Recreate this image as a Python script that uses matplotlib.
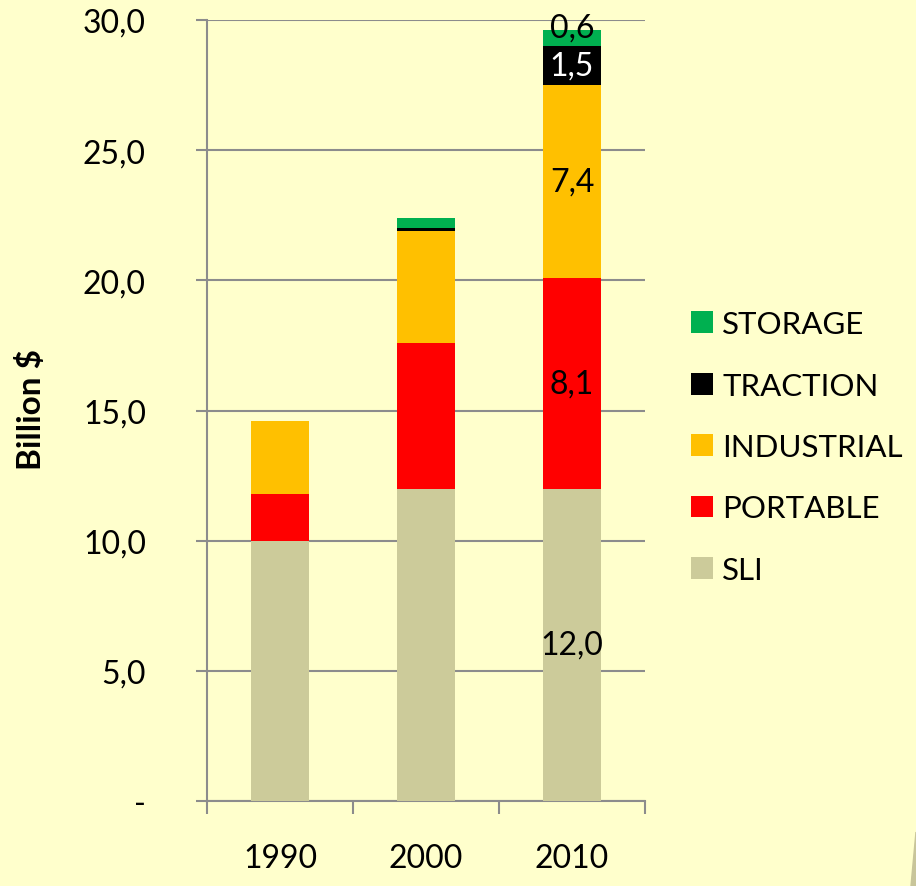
import matplotlib.pyplot as plt
import numpy as np
from matplotlib.patches import Polygon
from matplotlib.ticker import FuncFormatter

years = ['1990', '2000', '2010']
sli = [10.0, 12.0, 12.0]
portable = [1.8, 5.6, 8.1]
industrial = [2.8, 4.3, 7.4]
traction = [0.0, 0.1, 1.5]
storage = [0.0, 0.4, 0.6]

series = [('SLI', sli, '#CCCB9A'),
          ('PORTABLE', portable, '#FF0000'),
          ('INDUSTRIAL', industrial, '#FFC000'),
          ('TRACTION', traction, '#000000'),
          ('STORAGE', storage, '#00B050')]

bg = '#FFFFCC'
plt.rcParams['font.family'] = ['Lato', 'DejaVu Sans']

fig = plt.figure(figsize=(9.16, 8.87), dpi=100, facecolor=bg)
ax = fig.add_axes([207/916, 1 - 802/887, 438/916, 781/887])
ax.set_facecolor(bg)

x = np.arange(len(years))
bottom = np.zeros(len(years))
handles = []
for name, vals, col in series:
    vals = np.array(vals)
    b = ax.bar(x, vals, 0.4, bottom=bottom, color=col, label=name, zorder=3)
    handles.append(b)
    # value labels only on the last bar
    txtcol = 'white' if col == '#000000' else 'black'
    dy = 8 if name == 'STORAGE' else 0
    ax.annotate(f'{vals[-1]:.1f}'.replace('.', ','),
                (x[-1], bottom[-1] + vals[-1] / 2), xytext=(0, dy),
                textcoords='offset points', ha='center', va='center',
                fontsize=23, color=txtcol, zorder=4)
    bottom += vals

ax.set_xlim(-0.5, 2.5)
ax.set_ylim(0, 30)
ax.set_yticks(np.arange(0, 31, 5))
ax.yaxis.set_major_formatter(FuncFormatter(
    lambda v, p: '-' if v == 0 else f'{v:.1f}'.replace('.', ',')))
ax.grid(axis='y', color='#8C8C8C', linewidth=1.5, zorder=0)

ax.set_xticks(x)
ax.set_xticklabels(years)
ax.set_xticks([-0.5, 0.5, 1.5, 2.5], minor=True)
ax.tick_params(axis='x', which='major', length=0, pad=30, labelsize=23)
ax.tick_params(axis='x', which='minor', length=9, width=1.5, color='#8C8C8C', direction='out')
ax.tick_params(axis='y', length=8, width=1.5, color='#8C8C8C', pad=36, labelsize=23)

for s in ['top', 'right']:
    ax.spines[s].set_visible(False)
for s in ['left', 'bottom']:
    ax.spines[s].set_color('#8C8C8C')
    ax.spines[s].set_linewidth(1.5)

fig.text(31/916, 1 - 410/887, 'Billion $', rotation=90, ha='center', va='center',
         fontsize=24, fontweight='bold')

fig.legend(handles[::-1], [s[0] for s in series][::-1], loc='center left',
           bbox_to_anchor=(663/916, 1 - 448/887), frameon=False, fontsize=22.5,
           handlelength=0.7, handleheight=0.7, handletextpad=0.3, labelspacing=1.07)

fig.patches.append(Polygon([(911/916, 0), (1, 54/887), (1, 0)], closed=True,
                           transform=fig.transFigure, color='#C8C59A', zorder=0))

plt.savefig('out.png', dpi=100, facecolor=bg)
